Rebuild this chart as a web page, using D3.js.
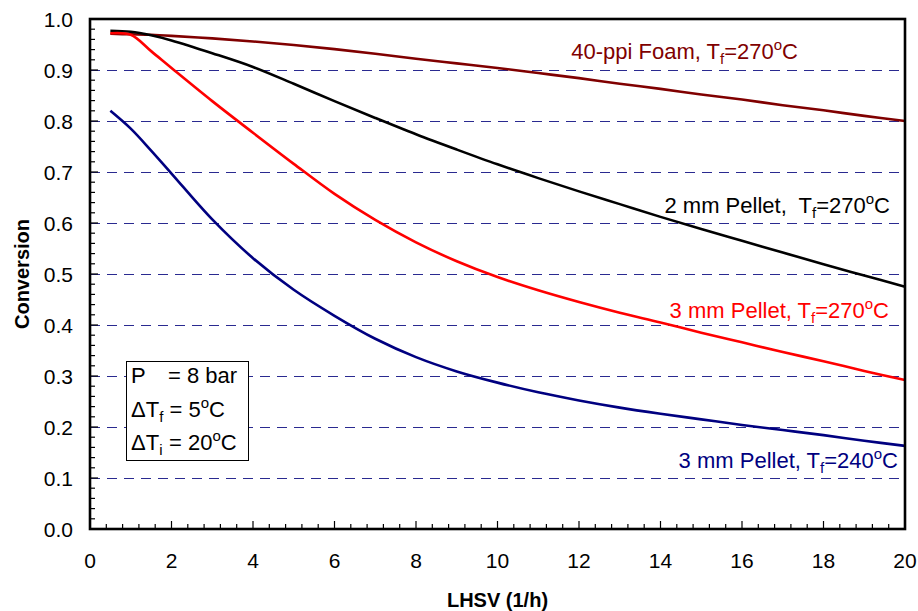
<!DOCTYPE html>
<html lang="en">
	<head>
		<meta charset="utf-8">
		<title>Conversion vs LHSV</title>
		<script type="text/javascript" src="https://cdn.jsdelivr.net/npm/d3@7"></script>
		<style type="text/css">
			body { margin: 0; background: #fff; }
			text { font-family: Arial, "Liberation Sans", sans-serif; white-space: pre; }
		</style>
	</head>
	<body>
		<script type="text/javascript">

			//Data
			var lhsv = [0.5, 1, 1.5, 2, 3, 4, 5, 6, 7, 8, 9, 10, 11, 12, 13, 14, 15, 16, 17, 18, 19, 20];
			var foam270 = [0.971, 0.970, 0.969, 0.967, 0.962, 0.956, 0.949, 0.941, 0.932, 0.922, 0.913, 0.904,
							0.894, 0.884, 0.873, 0.863, 0.852, 0.842, 0.831, 0.821, 0.810, 0.800];
			var pellet2mm270 = [0.977, 0.975, 0.968, 0.958, 0.933, 0.906, 0.873, 0.839, 0.806, 0.774, 0.744, 0.715,
							0.688, 0.662, 0.637, 0.612, 0.588, 0.565, 0.542, 0.519, 0.497, 0.475];
			var pellet3mm270 = [0.972, 0.969, 0.937, 0.904, 0.839, 0.777, 0.716, 0.657, 0.606, 0.562, 0.525, 0.494,
							0.468, 0.445, 0.424, 0.405, 0.385, 0.366, 0.347, 0.329, 0.310, 0.292];
			var pellet3mm240 = [0.820, 0.785, 0.742, 0.697, 0.607, 0.531, 0.469, 0.418, 0.373, 0.337, 0.309, 0.287,
							0.268, 0.252, 0.238, 0.226, 0.215, 0.204, 0.194, 0.184, 0.173, 0.163];

			var xTicks = [0, 2, 4, 6, 8, 10, 12, 14, 16, 18, 20];
			var yTicks = [0, 0.1, 0.2, 0.3, 0.4, 0.5, 0.6, 0.7, 0.8, 0.9, 1.0];

			var seriesNames = ["40-ppi Foam", "2 mm Pellet", "3 mm Pellet", "3 mm Pellet"];
			var seriesTemps = ["270", "270", "270", "240"];

			//Width and height
			var w = 918;
			var h = 611;
			var pL = 90, pR = 905, pT = 19, pB = 529;

			var xScale = d3.scaleLinear().domain([0, 20]).range([pL, pR]);
			var yScale = d3.scaleLinear().domain([0, 1]).range([pB, pT]);

			var svg = d3.select("body")
						.append("svg")
						.attr("width", w)
						.attr("height", h);

			//Dashed gridlines
			svg.append("g")
				.selectAll("line")
				.data(yTicks.filter(function(d) { return d > 0 && d < 1; }))
				.enter()
				.append("line")
				.attr("x1", pL)
				.attr("x2", pR)
				.attr("y1", function(d) { return Math.round(yScale(d)) + 0.5; })
				.attr("y2", function(d) { return Math.round(yScale(d)) + 0.5; })
				.attr("stroke", "#2a2a90")
				.attr("stroke-width", 1)
				.attr("stroke-dasharray", "10,7");

			//Series
			var series = [
				{ values: foam270, color: "#800000", lx: 798, ly: 59, sep: " " },
				{ values: pellet2mm270, color: "#000000", lx: 890, ly: 213, sep: "  " },
				{ values: pellet3mm270, color: "#ff0000", lx: 889, ly: 318, sep: " " },
				{ values: pellet3mm240, color: "#000080", lx: 898, ly: 468, sep: " " }
			];

			var line = d3.line()
				.x(function(d, i) { return xScale(lhsv[i]); })
				.y(function(d) { return yScale(d); })
				.curve(d3.curveCatmullRom.alpha(0.5));

			svg.append("g")
				.selectAll("path")
				.data(series)
				.enter()
				.append("path")
				.attr("d", function(d) { return line(d.values); })
				.attr("fill", "none")
				.attr("stroke", function(d) { return d.color; })
				.attr("stroke-width", 2.6);

			//Series labels
			series.forEach(function(s, i) {
				var t = svg.append("text")
					.attr("x", s.lx)
					.attr("y", s.ly)
					.attr("text-anchor", "end")
					.attr("font-size", "22px")
					.attr("fill", s.color);
				t.append("tspan").text(seriesNames[i] + "," + s.sep + "T");
				t.append("tspan").attr("font-size", "15px").attr("dy", 5).text("f");
				t.append("tspan").attr("dy", -5).text("=" + seriesTemps[i]);
				t.append("tspan").attr("font-size", "15px").attr("dy", -9).text("o");
				t.append("tspan").attr("dy", 9).text("C");
			});

			//Minor ticks (inside)
			svg.append("g")
				.selectAll("line")
				.data(d3.range(0, 1.0001, 0.02))
				.enter()
				.append("line")
				.attr("x1", pL)
				.attr("x2", function(d, i) { return pL + (i % 5 === 0 ? 8 : 5); })
				.attr("y1", function(d) { return yScale(d); })
				.attr("y2", function(d) { return yScale(d); })
				.attr("stroke", "#000")
				.attr("stroke-width", 1.2);

			svg.append("g")
				.selectAll("line")
				.data(d3.range(0, 20.0001, 0.4))
				.enter()
				.append("line")
				.attr("x1", function(d) { return xScale(d); })
				.attr("x2", function(d) { return xScale(d); })
				.attr("y1", pB)
				.attr("y2", function(d, i) { return pB - (i % 5 === 0 ? 8 : 5); })
				.attr("stroke", "#000")
				.attr("stroke-width", 1.2);

			//Frame
			svg.append("rect")
				.attr("x", pL)
				.attr("y", pT)
				.attr("width", pR - pL)
				.attr("height", pB - pT)
				.attr("fill", "none")
				.attr("stroke", "#000")
				.attr("stroke-width", 2.6);

			//Tick labels
			svg.append("g")
				.selectAll("text")
				.data(yTicks)
				.enter()
				.append("text")
				.attr("x", 73)
				.attr("y", function(d) { return yScale(d) + 7.5; })
				.attr("text-anchor", "end")
				.attr("font-size", "21px")
				.text(function(d) { return d3.format(".1f")(d); });

			svg.append("g")
				.selectAll("text")
				.data(xTicks)
				.enter()
				.append("text")
				.attr("x", function(d) { return xScale(d); })
				.attr("y", 568)
				.attr("text-anchor", "middle")
				.attr("font-size", "21px")
				.text(function(d) { return d; });

			//Axis titles
			svg.append("text")
				.attr("x", (pL + pR) / 2)
				.attr("y", 607)
				.attr("text-anchor", "middle")
				.attr("font-size", "20px")
				.attr("font-weight", "bold")
				.text("LHSV (1/h)");

			svg.append("text")
				.attr("transform", "translate(29," + ((pT + pB) / 2) + ") rotate(-90)")
				.attr("text-anchor", "middle")
				.attr("font-size", "20px")
				.attr("font-weight", "bold")
				.text("Conversion");

			//Conditions box
			var box = svg.append("g");
			box.append("rect")
				.attr("x", 126.5)
				.attr("y", 361.5)
				.attr("width", 122)
				.attr("height", 99)
				.attr("fill", "#fff")
				.attr("stroke", "#000")
				.attr("stroke-width", 1);

			var t1 = box.append("text").attr("y", 383).attr("font-size", "22px");
			t1.append("tspan").attr("x", 131).text("P");
			t1.append("tspan").attr("x", 168).text("= 8 bar");

			var t2 = box.append("text").attr("x", 131).attr("y", 417).attr("font-size", "22px");
			t2.append("tspan").text("\u0394T");
			t2.append("tspan").attr("font-size", "15px").attr("dy", 5).text("f");
			t2.append("tspan").attr("dy", -5).text(" = 5");
			t2.append("tspan").attr("font-size", "15px").attr("dy", -9).text("o");
			t2.append("tspan").attr("dy", 9).text("C");

			var t3 = box.append("text").attr("y", 450).attr("font-size", "22px");
			t3.append("tspan").attr("x", 131).text("\u0394T");
			t3.append("tspan").attr("font-size", "15px").attr("dy", 5).text("i");
			t3.append("tspan").attr("x", 169).attr("dy", -5).text("= 20");
			t3.append("tspan").attr("font-size", "15px").attr("dy", -9).text("o");
			t3.append("tspan").attr("dy", 9).text("C");

		</script>
	</body>
</html>
